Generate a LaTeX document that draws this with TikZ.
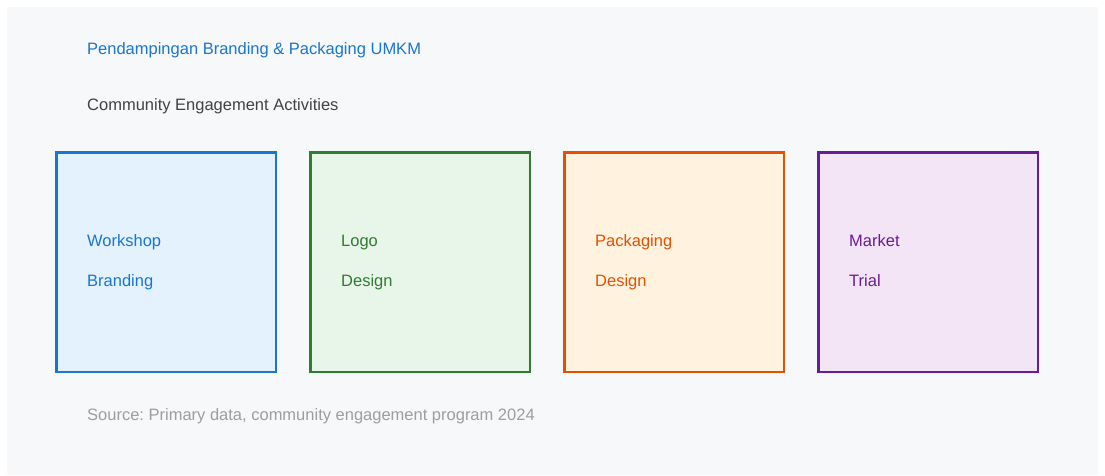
\documentclass[tikz,border=0pt]{standalone}
\usepackage{fontspec}
\setmainfont{Liberation Sans}
\usetikzlibrary{positioning}
\frenchspacing

\definecolor{panel}{HTML}{F7F8FA}
\definecolor{blueline}{HTML}{1976D2}
\definecolor{bluefill}{HTML}{E3F2FD}
\definecolor{greenline}{HTML}{2E7D32}
\definecolor{greenfill}{HTML}{E8F5E9}
\definecolor{orangeline}{HTML}{E65100}
\definecolor{orangefill}{HTML}{FFF3E0}
\definecolor{purpleline}{HTML}{6A1B9A}
\definecolor{purplefill}{HTML}{F3E5F5}
\definecolor{subgray}{HTML}{424242}
\definecolor{notegray}{HTML}{9E9E9E}

\tikzset{
  txt/.style={anchor=base west, inner sep=0pt, font=\fontsize{16.5}{20}\selectfont},
  activity/.style={draw=#1line, fill=#1fill, line width=2.5pt,
    minimum width=219.5pt, minimum height=219.5pt, anchor=north west, inner sep=0pt},
}

\begin{document}
\begin{tikzpicture}[x=1pt, y=-1pt]
  \useasboundingbox (0,0) rectangle (1105,475);
  \fill[panel] (7,7) rectangle (1098,475);

  % headings
  \node[txt, text=blueline] (title) at (87,54.3) {Pendampingan Branding \& Packaging UMKM};
  \node[txt, text=subgray] (subtitle) at (87,110) {Community Engagement Activities};

  % the four activity boxes
  \node[activity=blue]   (workshop) at (55,151) {};
  \node[activity=green]  (logo)     at (309,151) {};
  \node[activity=orange] (pack)     at (563,151) {};
  \node[activity=purple] (market)   at (817,151) {};

  % box texts, two lines each
  \node[txt, text=blueline] (workshop1) at (87,246) {Workshop};
  \node[txt, text=blueline] (workshop2) at (87,286) {Branding};
  \node[txt, text=greenline] (logo1) at (341,246) {Logo};
  \node[txt, text=greenline] (logo2) at (341,286) {Design};
  \node[txt, text=orangeline] (pack1) at (595,246) {Packaging};
  \node[txt, text=orangeline] (pack2) at (595,286) {Design};
  \node[txt, text=purpleline] (market1) at (849,246) {Market};
  \node[txt, text=purpleline] (market2) at (849,286) {Trial};

  \node[txt, text=notegray] (source) at (87,420) {Source: Primary data, community engagement program 2024};
\end{tikzpicture}
\end{document}
